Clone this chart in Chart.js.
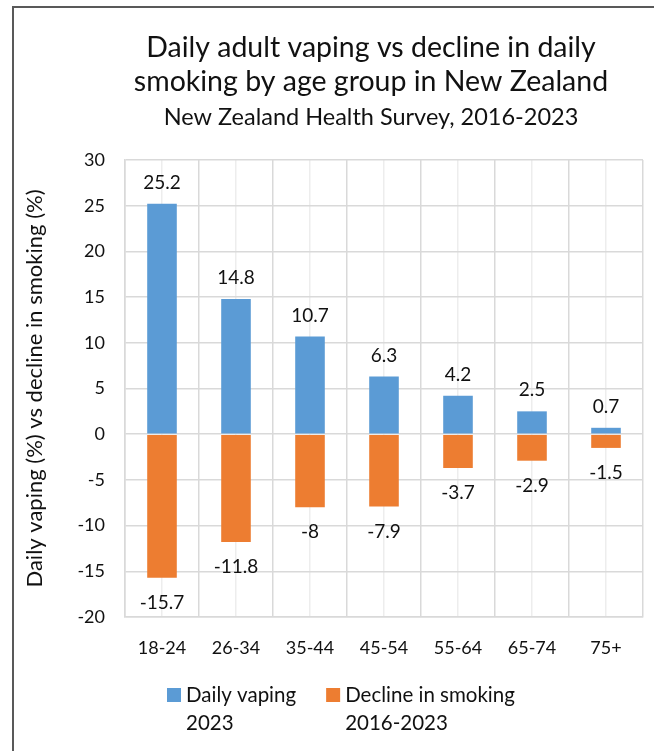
<!DOCTYPE html>
<html>
<head>
<meta charset="utf-8">
<script src="https://cdn.jsdelivr.net/npm/chart.js@4.4.1/dist/chart.umd.min.js"></script>
<style>
    html, body { margin: 0; padding: 0; background: #fff; overflow: hidden; }
    #wrap { position: relative; width: 654px; height: 751px; overflow: hidden; }
    #frame { position: absolute; left: 12px; top: 6px; width: 800px; height: 800px;
             border-left: 2px solid #595959; border-top: 2px solid #595959; }
    #chart { position: absolute; left: 0; top: 0; }
</style>
</head>
<body>
<div id="wrap">
    <div id="frame"></div>
    <canvas id="chart" width="742" height="751"></canvas>
</div>
<script>
const ageGroups = ['18-24', '26-34', '35-44', '45-54', '55-64', '65-74', '75+'];
const vaping2023 = [25.2, 14.8, 10.7, 6.3, 4.2, 2.5, 0.7];
const smokingDecline = [-15.7, -11.8, -8, -7.9, -3.7, -2.9, -1.5];
const yTicks = [-20, -15, -10, -5, 0, 5, 10, 15, 20, 25, 30];

const fontName = 'Lato';
const textColor = '#111';
const gridColor = '#d9d9d9';

// value labels: above the blue bars, below the orange ones
const valueLabels = {
    id: 'valueLabels',
    afterDatasetsDraw(chart) {
        const ctx = chart.ctx;
        ctx.save();
        ctx.font = '19px ' + fontName;
        ctx.fillStyle = textColor;
        ctx.textAlign = 'center';
        ctx.textBaseline = 'middle';
        chart.data.datasets.forEach(function (ds, i) {
            chart.getDatasetMeta(i).data.forEach(function (bar, j) {
                let v = ds.data[j];
                let y = v >= 0 ? bar.y - 21 : bar.y + 25;
                ctx.fillText(String(v), bar.x, y);
            });
        });
        ctx.restore();
    }
};

// two-line legend under the axis (built-in legend mis-measures multi-line labels)
const legendBelow = {
    id: 'legendBelow',
    afterDraw(chart) {
        const ctx = chart.ctx;
        const area = chart.chartArea;
        let x = area.left + 42;
        const y = area.bottom + 78;
        ctx.save();
        ctx.font = '20.5px ' + fontName;
        ctx.textAlign = 'left';
        ctx.textBaseline = 'middle';
        chart.data.datasets.forEach(function (ds) {
            let lines = ds.label.split('\n');
            ctx.fillStyle = ds.backgroundColor;
            ctx.fillRect(x, y - 7, 14, 14);
            ctx.fillStyle = textColor;
            let w = 0;
            lines.forEach(function (line, k) {
                ctx.fillText(line, x + 19, y + k * 28);
                w = Math.max(w, ctx.measureText(line).width);
            });
            x += 19 + w + 30;
        });
        ctx.restore();
    }
};

const data = {
    labels: ageGroups,
    datasets: [{
        label: 'Daily vaping\n2023',
        data: vaping2023,
        backgroundColor: '#5b9bd5',
        categoryPercentage: 0.8,
        barPercentage: 0.5
    }, {
        label: 'Decline in smoking\n2016-2023',
        data: smokingDecline,
        backgroundColor: '#ed7d31',
        categoryPercentage: 0.8,
        barPercentage: 0.5
    }]
};

const config = {
    type: 'bar',
    data: data,
    plugins: [valueLabels, legendBelow],
    options: {
        responsive: false,
        animation: false,
        devicePixelRatio: 1,
        layout: {
            padding: { left: 14, right: 14, top: 10, bottom: 92.4 }
        },
        plugins: {
            tooltip: { enabled: false },
            legend: { display: false },
            title: {
                display: true,
                text: ['Daily adult vaping vs decline in daily', 'smoking by age group in New Zealand'],
                color: textColor,
                font: { family: fontName, size: 28.5, weight: 'normal', lineHeight: 1.193 },
                padding: { top: 21, bottom: 0 }
            },
            subtitle: {
                display: true,
                text: 'New Zealand Health Survey, 2016-2023',
                color: textColor,
                font: { family: fontName, size: 23.5, weight: 'normal', lineHeight: 1.2 },
                padding: { top: 3.9, bottom: 28.9 }
            }
        },
        scales: {
            x: {
                stacked: true,
                offset: true,
                grid: { offset: true, color: gridColor, lineWidth: 1.5, drawTicks: false },
                border: { color: gridColor, width: 1.5 },
                ticks: { color: textColor, font: { family: fontName, size: 18 }, padding: 20 },
                afterFit: function (s) { s.height = 41.6; }
            },
            xMinor: {
                type: 'category',
                labels: ageGroups,
                position: 'bottom',
                offset: true,
                weight: 1,
                grid: { offset: false, color: '#ededed', lineWidth: 1.5, drawTicks: false },
                border: { display: false },
                ticks: { display: false },
                afterFit: function (s) { s.height = 0; }
            },
            y: {
                stacked: true,
                min: yTicks[0],
                max: yTicks[yTicks.length - 1],
                afterBuildTicks: function (s) {
                    s.ticks = yTicks.map(function (v) { return { value: v }; });
                },
                grid: { color: gridColor, lineWidth: 1.5, drawTicks: false },
                border: { color: gridColor, width: 1.5 },
                ticks: { color: textColor, font: { family: fontName, size: 18 }, padding: 20 },
                title: {
                    display: true,
                    text: 'Daily vaping (%) vs decline in smoking (%)',
                    color: textColor,
                    font: { family: fontName, size: 22 },
                    padding: { top: 7.8, bottom: 0 }
                },
                afterFit: function (s) { s.width = 111; }
            },
            yRight: {
                position: 'right',
                grid: { display: false },
                border: { display: false },
                ticks: { display: false },
                afterFit: function (s) { s.width = 85; }
            }
        }
    }
};

const ChartMain = new Chart(document.getElementById('chart'), config);
</script>
</body>
</html>
